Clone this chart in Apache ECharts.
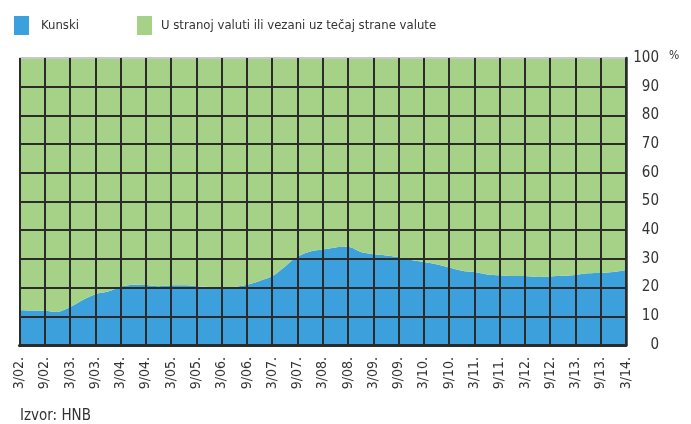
<!DOCTYPE html>
<html>
<head>
<meta charset="utf-8">
<script src="https://cdn.jsdelivr.net/npm/echarts@6/dist/echarts.min.js"></script>
<style>html,body{margin:0;padding:0;background:#fff}#c{width:691px;height:424px}</style>
</head>
<body>
<div id="c"></div>
<script>
var FONT = '"Liberation Sans Narrow","DejaVu Sans Condensed","Roboto Condensed","Liberation Sans",sans-serif';

var categories = [
  '3/02.','6/02.','9/02.','12/02.','3/03.','6/03.','9/03.','12/03.',
  '3/04.','6/04.','9/04.','12/04.','3/05.','6/05.','9/05.','12/05.',
  '3/06.','6/06.','9/06.','12/06.','3/07.','6/07.','9/07.','12/07.',
  '3/08.','6/08.','9/08.','12/08.','3/09.','6/09.','9/09.','12/09.',
  '3/10.','6/10.','9/10.','12/10.','3/11.','6/11.','9/11.','12/11.',
  '3/12.','6/12.','9/12.','12/12.','3/13.','6/13.','9/13.','12/13.',
  '3/14.'
];

var kunski = [
  12.1, 12.0, 11.9, 11.5, 13.2, 15.7, 17.7, 18.6,
  20.3, 21.0, 20.9, 20.5, 20.8, 20.8, 20.5, 20.2,
  19.6, 20.2, 21.0, 22.3, 24.0, 27.3, 30.8, 32.6,
  33.3, 34.0, 34.2, 32.4, 31.6, 31.2, 30.6, 29.6,
  28.9, 28.1, 27.0, 25.9, 25.4, 24.6, 24.3, 24.0,
  24.0, 23.7, 23.9, 24.1, 24.4, 25.0, 25.1, 25.4,
  26.1
];

var devizni = [
  87.9, 88.0, 88.1, 88.5, 86.8, 84.3, 82.3, 81.4,
  79.7, 79.0, 79.1, 79.5, 79.2, 79.2, 79.5, 79.8,
  80.4, 79.8, 79.0, 77.7, 76.0, 72.7, 69.2, 67.4,
  66.7, 66.0, 65.8, 67.6, 68.4, 68.8, 69.4, 70.4,
  71.1, 71.9, 73.0, 74.1, 74.6, 75.4, 75.7, 76.0,
  76.0, 76.3, 76.1, 75.9, 75.6, 75.0, 74.9, 74.6,
  73.9
];

var seriesNames = ['Kunski', 'U stranoj valuti ili vezani uz tečaj strane valute'];
var yTicks = [0, 10, 20, 30, 40, 50, 60, 70, 80, 90, 100];

var chart = echarts.init(document.getElementById('c'), null, {renderer: 'canvas'});

var lineCol = '#2b2b2b';
var splitColors = yTicks.map(function (v, i) { return i === yTicks.length - 1 ? '#c8c8c8' : lineCol; });

chart.setOption({
  animation: false,
  backgroundColor: '#fff',
  textStyle: {fontFamily: FONT},
  legend: [
    {
      data: [seriesNames[0]], left: 14, top: 16, icon: 'rect', padding: 0,
      itemWidth: 15, itemHeight: 19, itemGap: 12,
      textStyle: {fontFamily: FONT, fontSize: 13, color: '#333', padding: [0, 0, 0, 7]}
    },
    {
      data: [seriesNames[1]], left: 137, top: 16, icon: 'rect', padding: 0,
      itemWidth: 15, itemHeight: 19, itemGap: 12,
      textStyle: {fontFamily: FONT, fontSize: 13, color: '#333', padding: [0, 0, 0, 4]}
    }
  ],
  grid: {left: 19.5, right: 65, top: 58, bottom: 79, containLabel: false},
  xAxis: {
    type: 'category',
    data: categories,
    boundaryGap: false,
    z: 5,
    axisLine: {show: true, lineStyle: {color: lineCol, width: 3}},
    axisTick: {show: false, interval: 1},
    axisLabel: {
      interval: 1, rotate: 90, margin: 12,
      fontFamily: FONT, fontSize: 14, color: '#333'
    },
    splitLine: {show: true, interval: 1, lineStyle: {color: lineCol, width: 2}}
  },
  yAxis: {
    type: 'value',
    position: 'right',
    min: 0, max: 100, interval: 10,
    z: 5,
    axisLine: {show: true, lineStyle: {color: lineCol, width: 2.5}},
    axisTick: {show: false},
    axisLabel: {
      margin: 33, align: 'right',
      fontFamily: FONT, fontSize: 15, color: '#333'
    },
    splitLine: {show: true, lineStyle: {color: splitColors, width: 2}}
  },
  graphic: [
    {type: 'text', left: 669, top: 50, style: {text: '%', font: '12px ' + FONT, fill: '#333'}},
    {type: 'text', left: 20, top: 409, style: {text: 'Izvor: HNB', font: '15px ' + FONT, fill: '#333'}}
  ],
  series: [
    {
      name: seriesNames[0], type: 'line', stack: 'total', data: kunski,
      symbol: 'none', smooth: 0.3, z: 1,
      lineStyle: {width: 0}, itemStyle: {color: '#3ba0db'},
      areaStyle: {color: '#3ba0db', opacity: 1}
    },
    {
      name: seriesNames[1], type: 'line', stack: 'total', data: devizni,
      symbol: 'none', smooth: 0.3, z: 1,
      lineStyle: {width: 0}, itemStyle: {color: '#a5d287'},
      areaStyle: {color: '#a5d287', opacity: 1}
    }
  ]
});
</script>
</body>
</html>
